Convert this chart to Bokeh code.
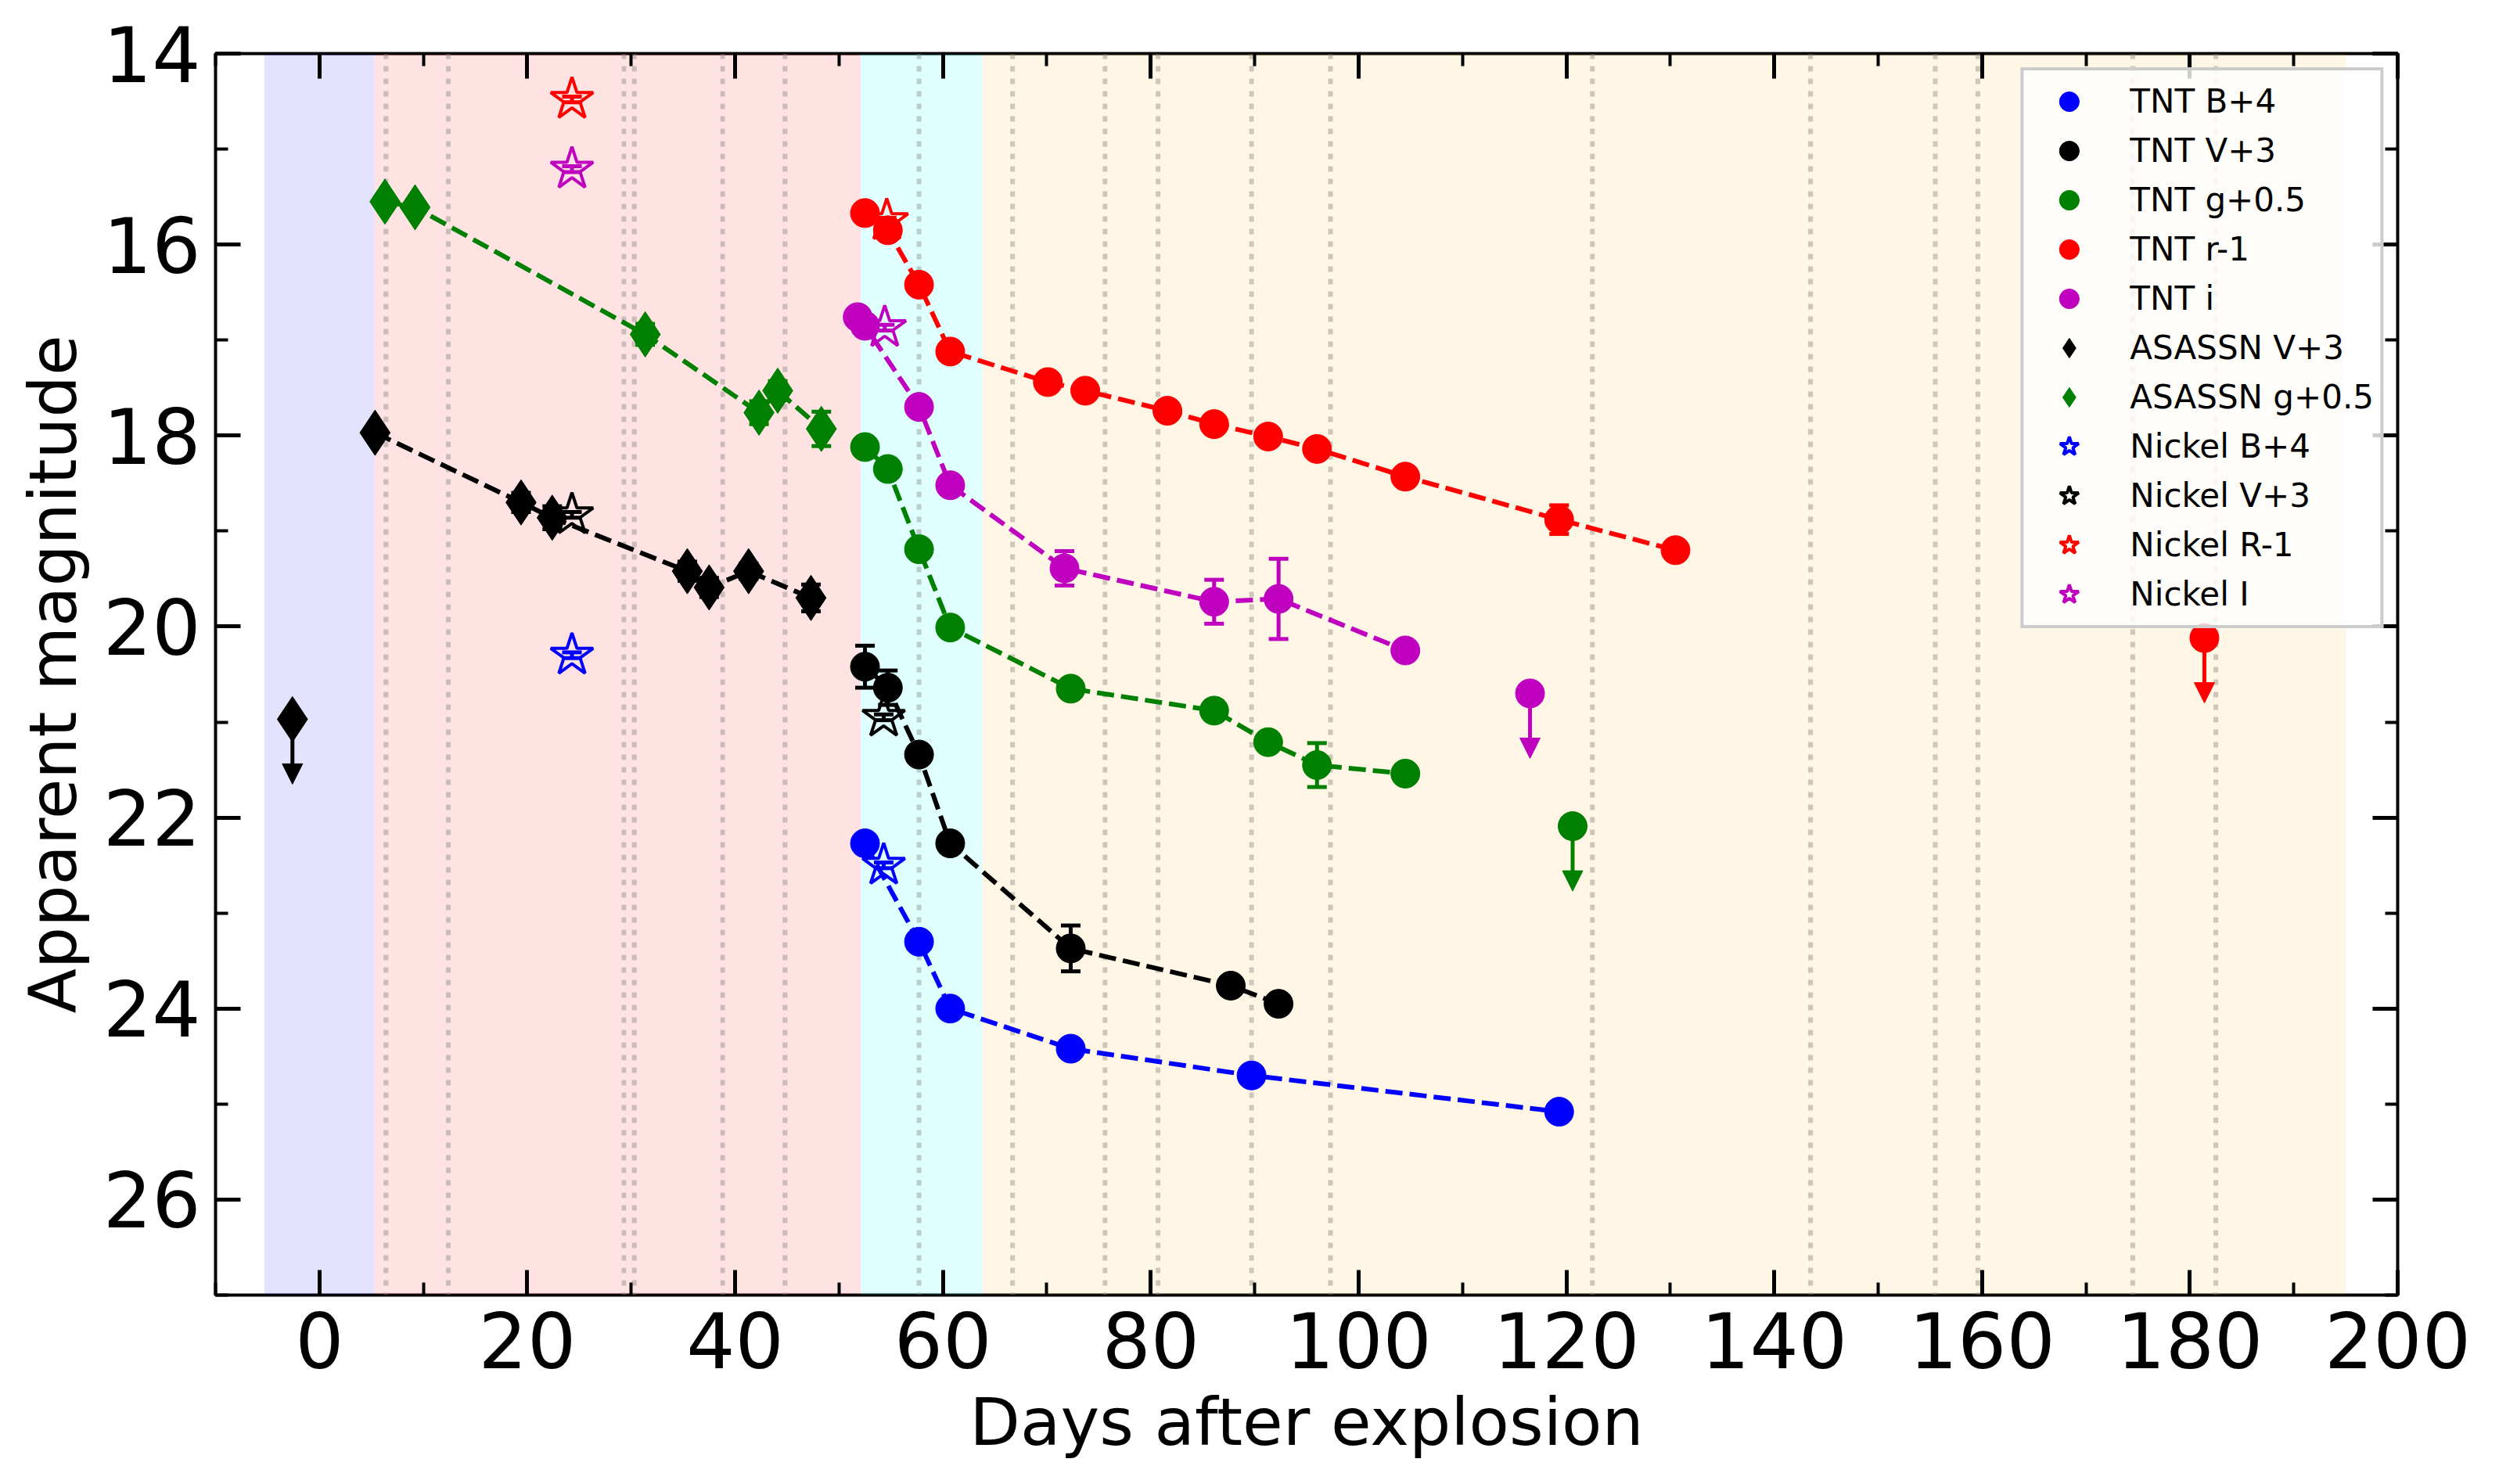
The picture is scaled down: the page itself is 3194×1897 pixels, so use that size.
from bokeh.plotting import figure
from bokeh.models import (Range1d, SingleIntervalTicker, LinearAxis, BoxAnnotation, Span,
                          Legend, LegendItem, Arrow, NormalHead, ColumnDataSource,
                          CustomJSTickFormatter)
from bokeh.embed import file_html
from bokeh.resources import INLINE

# ---------------- data ----------------
# TNT photometry (days after explosion, apparent magnitude incl. offset, error)
tnt_B_days = [52.5, 57.7, 60.7, 72.3, 89.7, 119.3]
tnt_B_mag = [22.27, 23.30, 24.00, 24.42, 24.70, 25.08]
tnt_B_err = [0.05, 0.05, 0.05, 0.05, 0.05, 0.06]

tnt_V_days = [52.5, 54.7, 57.7, 60.7, 72.3, 87.7, 92.3]
tnt_V_mag = [20.42, 20.64, 21.34, 22.27, 23.37, 23.76, 23.95]
tnt_V_err = [0.22, 0.18, 0.05, 0.05, 0.24, 0.05, 0.05]

tnt_g_days = [52.5, 54.7, 57.7, 60.7, 72.3, 86.1, 91.3, 96.0, 104.5]
tnt_g_mag = [18.12, 18.35, 19.19, 20.01, 20.65, 20.88, 21.21, 21.45, 21.54]
tnt_g_err = [0.05, 0.05, 0.05, 0.05, 0.06, 0.10, 0.05, 0.23, 0.05]

tnt_r_days = [52.5, 54.7, 57.7, 60.7, 70.1, 73.7, 81.6, 86.1, 91.3, 96.0, 104.5, 119.3, 130.5]
tnt_r_mag = [15.67, 15.85, 16.42, 17.12, 17.44, 17.53, 17.74, 17.88, 18.01, 18.14, 18.43, 18.88, 19.20]
tnt_r_err = [0.04, 0.04, 0.04, 0.04, 0.04, 0.04, 0.04, 0.04, 0.04, 0.04, 0.04, 0.15, 0.04]

tnt_i_days = [51.8, 52.5, 57.7, 60.7, 71.7, 86.1, 92.3, 104.5]
tnt_i_mag = [16.76, 16.85, 17.70, 18.52, 19.39, 19.74, 19.71, 20.25]
tnt_i_err = [0.05, 0.05, 0.05, 0.05, 0.18, 0.23, 0.42, 0.05]

# TNT upper limits
lim_g_days = [120.6]
lim_g_mag = [22.09]
lim_r_days = [181.4]
lim_r_mag = [20.12]
lim_i_days = [116.5]
lim_i_mag = [20.70]

# ASAS-SN photometry
asassn_V_days = [5.35, 19.4, 22.4, 35.4, 37.5, 41.3, 47.3]
asassn_V_mag = [17.97, 18.70, 18.86, 19.42, 19.59, 19.42, 19.70]
asassn_V_err = [0.05, 0.10, 0.12, 0.10, 0.10, 0.08, 0.14]
lim_asassn_V_days = [-2.6]
lim_asassn_V_mag = [20.97]

asassn_g_days = [6.3, 9.2, 31.35, 42.3, 44.1, 48.3]
asassn_g_mag = [15.55, 15.61, 16.94, 17.76, 17.53, 17.93]
asassn_g_err = [0.05, 0.05, 0.11, 0.12, 0.10, 0.18]

# Nickel photometry
nickel_B_days = [24.3, 54.3]
nickel_B_mag = [20.30, 22.50]
nickel_V_days = [24.3, 54.3]
nickel_V_mag = [18.83, 20.95]
nickel_R_days = [24.3, 54.6]
nickel_R_mag = [14.48, 15.75]
nickel_I_days = [24.3, 54.4]
nickel_I_mag = [15.21, 16.87]
nickel_err = [0.03, 0.03]

# length of the upper-limit arrows (mag)
LIMIT_ARROW = 0.68

# spectral epochs (days) and phase boundaries (days)
spec_epochs = [6.4, 12.4, 29.3, 30.3, 38.8, 44.8, 57.7, 66.7, 75.6, 80.7, 89.7,
               97.3, 122.5, 143.5, 155.5, 159.6, 174.5, 182.5]
phase_start = [-5.3, 5.3, 52.1, 63.8]
phase_end = [5.3, 52.1, 63.8, 195.0]
phase_colors = ["blue", "red", "cyan", "orange"]
phase_alpha = [0.11, 0.11, 0.12, 0.10]

legend_labels = ["TNT B+4", "TNT V+3", "TNT g+0.5", "TNT r-1", "TNT i",
                 "ASASSN V+3", "ASASSN g+0.5", "Nickel B+4", "Nickel V+3",
                 "Nickel R-1", "Nickel I"]

FONT = "DejaVu Sans"

# ---------------- figure ----------------
p = figure(width=3178, height=1881,
           x_range=Range1d(-10, 200), y_range=Range1d(27, 14),
           output_backend="svg", toolbar_location=None,
           min_border_left=275, min_border_right=114,
           min_border_top=68, min_border_bottom=226,
           x_axis_label="Days after explosion", y_axis_label="Apparent magnitude")
p.xgrid.visible = False
p.ygrid.visible = False
p.outline_line_color = "black"
p.outline_line_width = 4
p.outline_line_alpha = 1.0
p.background_fill_color = "white"
p.border_fill_color = "white"


def style_axis(ax, interval, labels=True):
    ax.ticker = SingleIntervalTicker(interval=interval, num_minor_ticks=2)
    ax.major_tick_in = 32
    ax.major_tick_out = 0
    ax.minor_tick_in = 16
    ax.minor_tick_out = 0
    ax.major_tick_line_width = 5
    ax.minor_tick_line_width = 4
    ax.major_tick_line_color = "black"
    ax.minor_tick_line_color = "black"
    ax.axis_line_color = None
    ax.major_label_text_font = FONT
    ax.major_label_text_font_size = "98px"
    ax.major_label_text_font_style = "normal"
    ax.major_label_text_color = "black"
    if not labels:
        ax.formatter = CustomJSTickFormatter(code="return ''")
        ax.major_label_text_font_size = "1px"
        ax.major_label_standoff = 0


xa = p.xaxis[0]
ya = p.yaxis[0]
style_axis(xa, 20)
style_axis(ya, 2)
xa.major_label_standoff = 21
ya.major_label_standoff = 19
for ax in (xa, ya):
    ax.axis_label_text_font = FONT
    ax.axis_label_text_font_size = "84px"
    ax.axis_label_text_font_style = "normal"
    ax.axis_label_text_color = "black"
xa.axis_label_standoff = 17
ya.axis_label_standoff = 12

top_ax = LinearAxis()
right_ax = LinearAxis()
style_axis(top_ax, 20, labels=False)
style_axis(right_ax, 2, labels=False)
p.add_layout(top_ax, "above")
p.add_layout(right_ax, "right")

# phase shading
for l, r, c, a in zip(phase_start, phase_end, phase_colors, phase_alpha):
    p.add_layout(BoxAnnotation(left=l, right=r, fill_color=c, fill_alpha=a,
                               line_color=None, level="underlay"))

# spectral epochs
for e in spec_epochs:
    p.add_layout(Span(location=e, dimension="height", line_color="#808080",
                      line_alpha=0.4, line_width=6, line_dash="7 9", level="underlay"))


def dashed(days, mag, color):
    p.line(days, mag, line_color=color, line_width=6, line_dash="22 9")


def errbars(days, mag, err, color):
    lo = [m - e for m, e in zip(mag, err)]
    hi = [m + e for m, e in zip(mag, err)]
    p.segment(x0=days, y0=lo, x1=days, y1=hi, line_color=color, line_width=5)
    p.scatter(x=list(days) + list(days), y=lo + hi, marker="dash", size=25,
              line_color=color, line_width=5)


def limit(days, mag, color, marker, size):
    ends = [m + LIMIT_ARROW for m in mag]
    src = ColumnDataSource(dict(x=days, y=mag, ye=ends))
    p.add_layout(Arrow(end=NormalHead(size=26, fill_color=color, line_color=color, line_width=1),
                       x_start="x", y_start="y", x_end="x", y_end="ye",
                       line_color=color, line_width=5, source=src))
    p.scatter(days, mag, marker=marker, size=size, fill_color=color, line_color=color)


# connecting dashed lines
dashed(tnt_B_days, tnt_B_mag, "blue")
dashed(tnt_V_days, tnt_V_mag, "black")
dashed(tnt_g_days, tnt_g_mag, "green")
dashed(tnt_r_days, tnt_r_mag, "red")
dashed(tnt_i_days, tnt_i_mag, "#bf00bf")
dashed(asassn_V_days, asassn_V_mag, "black")
dashed(asassn_g_days, asassn_g_mag, "green")

# error bars
errbars(tnt_B_days, tnt_B_mag, tnt_B_err, "blue")
errbars(tnt_V_days, tnt_V_mag, tnt_V_err, "black")
errbars(tnt_g_days, tnt_g_mag, tnt_g_err, "green")
errbars(tnt_r_days, tnt_r_mag, tnt_r_err, "red")
errbars(tnt_i_days, tnt_i_mag, tnt_i_err, "#bf00bf")
errbars(asassn_V_days, asassn_V_mag, asassn_V_err, "black")
errbars(asassn_g_days, asassn_g_mag, asassn_g_err, "green")
errbars(nickel_B_days, nickel_B_mag, nickel_err, "blue")
errbars(nickel_V_days, nickel_V_mag, nickel_err, "black")
errbars(nickel_R_days, nickel_R_mag, nickel_err, "red")
errbars(nickel_I_days, nickel_I_mag, nickel_err, "#bf00bf")

CIRC = 37
DIAM = 58
STAR = 57

rB = p.scatter(tnt_B_days, tnt_B_mag, marker="circle", size=CIRC, color="blue")
rV = p.scatter(tnt_V_days, tnt_V_mag, marker="circle", size=CIRC, color="black")
rg = p.scatter(tnt_g_days, tnt_g_mag, marker="circle", size=CIRC, color="green")
rr = p.scatter(tnt_r_days, tnt_r_mag, marker="circle", size=CIRC, color="red")
ri = p.scatter(tnt_i_days, tnt_i_mag, marker="circle", size=CIRC, color="#bf00bf")
raV = p.scatter(asassn_V_days, asassn_V_mag, marker="diamond", size=DIAM, color="black")
rag = p.scatter(asassn_g_days, asassn_g_mag, marker="diamond", size=DIAM, color="green")
rnB = p.scatter(nickel_B_days, nickel_B_mag, marker="star", size=STAR, fill_color=None,
                line_color="blue", line_width=4)
rnV = p.scatter(nickel_V_days, nickel_V_mag, marker="star", size=STAR, fill_color=None,
                line_color="black", line_width=4)
rnR = p.scatter(nickel_R_days, nickel_R_mag, marker="star", size=STAR, fill_color=None,
                line_color="red", line_width=4)
rnI = p.scatter(nickel_I_days, nickel_I_mag, marker="star", size=STAR, fill_color=None,
                line_color="#bf00bf", line_width=4)

# upper limits
limit(lim_asassn_V_days, lim_asassn_V_mag, "black", "diamond", DIAM)
limit(lim_i_days, lim_i_mag, "#bf00bf", "circle", CIRC)
limit(lim_g_days, lim_g_mag, "green", "circle", CIRC)
limit(lim_r_days, lim_r_mag, "red", "circle", CIRC)

renderers = [rB, rV, rg, rr, ri, raV, rag, rnB, rnV, rnR, rnI]
legend = Legend(items=[LegendItem(label=lab, renderers=[r]) for lab, r in zip(legend_labels, renderers)],
                location="top_right", margin=18, padding=8,
                glyph_width=100, glyph_height=63, spacing=0, label_standoff=28,
                label_text_font=FONT, label_text_font_size="42px", label_text_color="black",
                background_fill_color="white", background_fill_alpha=0.8,
                border_line_color="#cccccc", border_line_width=4, border_line_alpha=1.0)
p.add_layout(legend)

open("out.html", "w").write(file_html(p, INLINE))
